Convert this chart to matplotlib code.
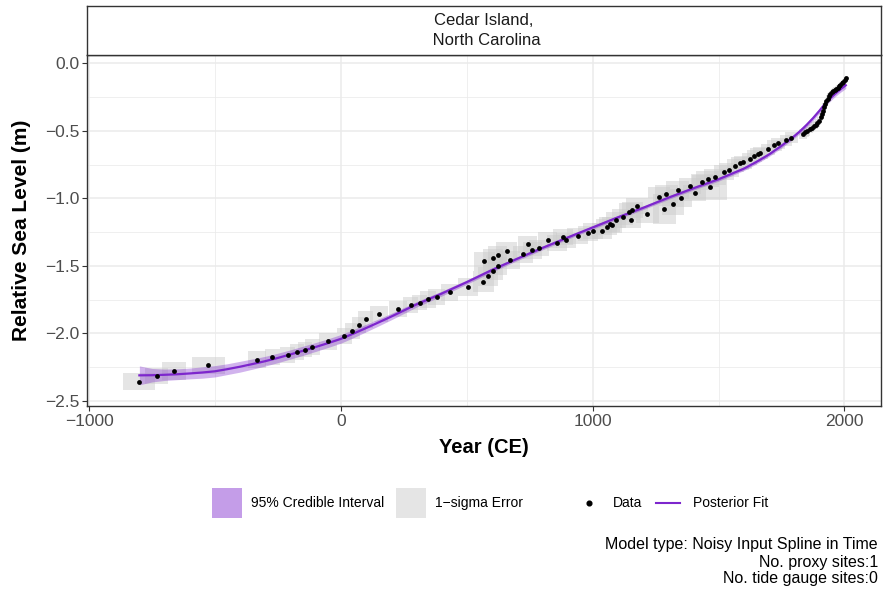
import matplotlib
matplotlib.use("Agg")
import matplotlib.pyplot as plt
from matplotlib.patches import Rectangle
from matplotlib.lines import Line2D
from matplotlib.ticker import FixedLocator, FuncFormatter

plt.rcParams["font.family"] = ["Liberation Sans", "DejaVu Sans"]

# ---- proxy observations (year CE, relative sea level in m) ----
year = [-801, -731, -662, -526, -334, -272, -211, -175, -143, -113,
        -52, 14, 46, 72, 99, 152, 226, 278, 313, 346,
        380, 432, 504, 566, 570, 585, 603, 603, 623, 623,
        658, 670, 722, 742, 761, 787, 822, 859, 881, 894,
        940, 982, 1000, 1036, 1055, 1067, 1078, 1092, 1119, 1145,
        1151, 1157, 1176, 1217, 1264, 1284, 1292, 1319, 1337, 1351,
        1387, 1405, 1434, 1457, 1465, 1486, 1521, 1541, 1567, 1586,
        1597, 1623, 1642, 1656, 1666, 1695, 1722, 1736, 1767, 1789,
        1836, 1843, 1850, 1862, 1870, 1878, 1885, 1891, 1898, 1905,
        1910, 1915, 1919, 1924, 1928, 1933, 1938, 1944, 1950, 1956,
        1961, 1967, 1973, 1978, 1984, 1990, 1995, 2001, 2005]
rsl = [-2.356, -2.316, -2.277, -2.235, -2.195, -2.176, -2.158, -2.139, -2.119, -2.099,
       -2.059, -2.020, -1.981, -1.936, -1.896, -1.857, -1.818, -1.788, -1.771, -1.748,
       -1.729, -1.696, -1.657, -1.618, -1.467, -1.578, -1.536, -1.440, -1.499, -1.418,
       -1.388, -1.455, -1.415, -1.339, -1.385, -1.366, -1.309, -1.329, -1.287, -1.311,
       -1.279, -1.259, -1.240, -1.240, -1.210, -1.193, -1.198, -1.161, -1.138, -1.097,
       -1.157, -1.088, -1.057, -1.119, -0.988, -1.078, -0.967, -1.040, -0.939, -0.998,
       -0.909, -0.958, -0.879, -0.859, -0.919, -0.840, -0.808, -0.790, -0.758, -0.741,
       -0.733, -0.710, -0.686, -0.668, -0.664, -0.636, -0.608, -0.593, -0.570, -0.550,
       -0.522, -0.510, -0.503, -0.487, -0.477, -0.467, -0.455, -0.442, -0.425, -0.400,
       -0.375, -0.350, -0.322, -0.300, -0.282, -0.262, -0.245, -0.226, -0.215, -0.205,
       -0.198, -0.190, -0.180, -0.170, -0.158, -0.147, -0.137, -0.120, -0.112]
# 1-sigma uncertainties (half widths)
year_err = [65, 45, 48, 65, 36, 30, 30, 28, 28, 30,
            35, 30, 30, 28, 30, 35, 35, 30, 30, 30,
            35, 35, 40, 42, 42, 40, 40, 40, 38, 38,
            40, 40, 40, 38, 38, 38, 38, 40, 40, 40,
            40, 40, 40, 40, 40, 40, 40, 40, 42, 42,
            42, 42, 42, 45, 45, 45, 45, 45, 45, 45,
            45, 45, 45, 45, 70, 45, 40, 40, 35, 35,
            35, 30, 30, 30, 30, 28, 28, 28, 25, 25,
            15, 15, 12, 12, 10, 10, 10, 10, 8, 8,
            8, 8, 8, 6, 6, 6, 6, 6, 5, 5,
            5, 5, 5, 5, 4, 4, 4, 3, 3]
rsl_err = [0.065, 0.060, 0.064, 0.062, 0.062, 0.060, 0.060, 0.058, 0.058, 0.060,
           0.060, 0.060, 0.058, 0.058, 0.060, 0.060, 0.060, 0.058, 0.058, 0.060,
           0.060, 0.062, 0.065, 0.077, 0.070, 0.070, 0.068, 0.068, 0.066, 0.066,
           0.065, 0.065, 0.062, 0.062, 0.060, 0.060, 0.060, 0.060, 0.058, 0.058,
           0.058, 0.058, 0.058, 0.058, 0.058, 0.058, 0.058, 0.058, 0.060, 0.060,
           0.060, 0.060, 0.060, 0.065, 0.070, 0.110, 0.070, 0.080, 0.065, 0.065,
           0.060, 0.060, 0.060, 0.060, 0.090, 0.060, 0.055, 0.055, 0.050, 0.050,
           0.050, 0.045, 0.045, 0.045, 0.045, 0.040, 0.040, 0.040, 0.040, 0.040,
           0.035, 0.035, 0.035, 0.030, 0.030, 0.030, 0.030, 0.030, 0.030, 0.030,
           0.028, 0.028, 0.028, 0.025, 0.025, 0.025, 0.025, 0.025, 0.022, 0.022,
           0.022, 0.020, 0.020, 0.020, 0.020, 0.020, 0.020, 0.020, 0.020]

# ---- posterior fit and 95% credible interval half width ----
fit_year = [-800, -750, -700, -650, -600, -550, -500, -450, -400, -350,
            -300, -250, -200, -150, -100, -50, 0, 50, 100, 150,
            200, 300, 400, 500, 600, 700, 800, 900, 1000, 1100,
            1200, 1300, 1400, 1500, 1600, 1650, 1700, 1750, 1800, 1825,
            1850, 1875, 1900, 1912, 1925, 1937, 1950, 1962, 1975, 1987,
            2005]
fit_mean = [-2.310, -2.309, -2.306, -2.302, -2.296, -2.289, -2.280, -2.264, -2.246, -2.226,
            -2.205, -2.181, -2.155, -2.128, -2.100, -2.071, -2.040, -2.001, -1.960, -1.918,
            -1.875, -1.785, -1.705, -1.620, -1.530, -1.447, -1.367, -1.290, -1.215, -1.140,
            -1.070, -0.995, -0.925, -0.858, -0.780, -0.730, -0.675, -0.610, -0.540, -0.500,
            -0.455, -0.406, -0.352, -0.324, -0.297, -0.272, -0.248, -0.227, -0.206, -0.188,
            -0.162]
fit_half = [0.070, 0.050, 0.042, 0.040, 0.040, 0.042, 0.042, 0.040, 0.040, 0.038,
            0.036, 0.035, 0.034, 0.034, 0.033, 0.032, 0.032, 0.030, 0.028, 0.026,
            0.024, 0.020, 0.018, 0.016, 0.015, 0.014, 0.014, 0.013, 0.013, 0.013,
            0.013, 0.013, 0.013, 0.014, 0.014, 0.015, 0.015, 0.016, 0.016, 0.017,
            0.017, 0.018, 0.018, 0.019, 0.019, 0.020, 0.020, 0.021, 0.021, 0.022,
            0.024]

x_ticks = [-1000, 0, 1000, 2000]
x_minor = [-500, 500, 1500]
y_ticks = [0.0, -0.5, -1.0, -1.5, -2.0, -2.5]
y_minor = [-0.25, -0.75, -1.25, -1.75, -2.25]

site_label = "Cedar Island,\n North Carolina"
caption_lines = ["Model type: Noisy Input Spline in Time",
                 "No. proxy sites:1",
                 "No. tide gauge sites:0"]

W, H = 883, 592
PURPLE = "#7D26CD"
BOX_GREY = "#CCCCCC"


def fx(px):
    return px / W


def fy(py):
    return 1 - py / H


fig = plt.figure(figsize=(W / 100, H / 100), dpi=100)
fig.patch.set_facecolor("white")

left, right, top, bottom = 87, 881, 55, 406
ax = fig.add_axes([fx(left), fy(bottom), (right - left) / W, (bottom - top) / H])

# 1-sigma error rectangles
for x, y, dx, dy in zip(year, rsl, year_err, rsl_err):
    ax.add_patch(Rectangle((x - dx, y - dy), 2 * dx, 2 * dy,
                           facecolor=BOX_GREY, edgecolor="none", alpha=0.5, zorder=2))

lower = [m - h for m, h in zip(fit_mean, fit_half)]
upper = [m + h for m, h in zip(fit_mean, fit_half)]
ax.fill_between(fit_year, lower, upper, color=PURPLE, alpha=0.35, linewidth=0, zorder=3)
ax.plot(fit_year, fit_mean, color=PURPLE, lw=1.6, zorder=4, solid_joinstyle="round")
ax.scatter(year, rsl, s=12, color="black", zorder=5, linewidths=0)

ax.set_xlim(-1008, 2145)
ax.set_ylim(-2.537, 0.062)

minus = lambda v, fmt: fmt.format(v).replace("-", "\u2212")
ax.xaxis.set_major_locator(FixedLocator(x_ticks))
ax.xaxis.set_minor_locator(FixedLocator(x_minor))
ax.yaxis.set_major_locator(FixedLocator(y_ticks))
ax.yaxis.set_minor_locator(FixedLocator(y_minor))
ax.xaxis.set_major_formatter(FuncFormatter(lambda v, p: minus(v, "{:.0f}")))
ax.yaxis.set_major_formatter(FuncFormatter(lambda v, p: minus(v, "{:.1f}")))

ax.grid(which="major", color="#EBEBEB", lw=1.1, zorder=0)
ax.grid(which="minor", color="#EBEBEB", lw=0.55, zorder=0)
ax.set_axisbelow(True)
ax.tick_params(which="major", length=3.5, width=0.8, color="#333333",
               labelcolor="#4D4D4D", labelsize=12.5, pad=2)
ax.tick_params(which="minor", length=0)
for s in ax.spines.values():
    s.set_color("#333333")
    s.set_linewidth(1.0)

ax.set_xlabel("Year (CE)", fontsize=14.5, fontweight="bold", labelpad=7)
ax.set_ylabel("Relative Sea Level (m)", fontsize=15, fontweight="bold", labelpad=10)

# facet strip
strip = fig.add_axes([fx(left), fy(top), (right - left) / W, (top - 6) / H])
strip.set_xticks([])
strip.set_yticks([])
for s in strip.spines.values():
    s.set_color("#333333")
    s.set_linewidth(1.0)
strip.text(0.5, 0.5, site_label, ha="center", va="center", fontsize=12,
           color="#1A1A1A", linespacing=1.4, transform=strip.transAxes)

# legend row
ly = 503
fig.patches.append(Rectangle((fx(212), fy(ly + 15)), 30 / W, 30 / H, transform=fig.transFigure,
                             facecolor=PURPLE, alpha=0.45, edgecolor="none"))
fig.text(fx(251), fy(ly), "95% Credible Interval", fontsize=10, va="center", ha="left")
fig.patches.append(Rectangle((fx(396), fy(ly + 15)), 30 / W, 30 / H, transform=fig.transFigure,
                             facecolor=BOX_GREY, alpha=0.5, edgecolor="none"))
fig.text(fx(435), fy(ly), "1\u2212sigma Error", fontsize=10, va="center", ha="left")
fig.lines.append(Line2D([fx(589)], [fy(ly)], transform=fig.transFigure, marker="o",
                        markersize=3.4, color="black", linestyle="none"))
fig.text(fx(613), fy(ly), "Data", fontsize=10, va="center", ha="left")
fig.lines.append(Line2D([fx(656), fx(680)], [fy(ly), fy(ly)], transform=fig.transFigure,
                        color=PURPLE, lw=1.5))
fig.text(fx(693), fy(ly), "Posterior Fit", fontsize=10, va="center", ha="left")

for i, line in enumerate(caption_lines):
    fig.text(fx(878), fy(545 + 17 * i), line, fontsize=11.5, ha="right", va="center")

fig.savefig("out.png", dpi=100)
